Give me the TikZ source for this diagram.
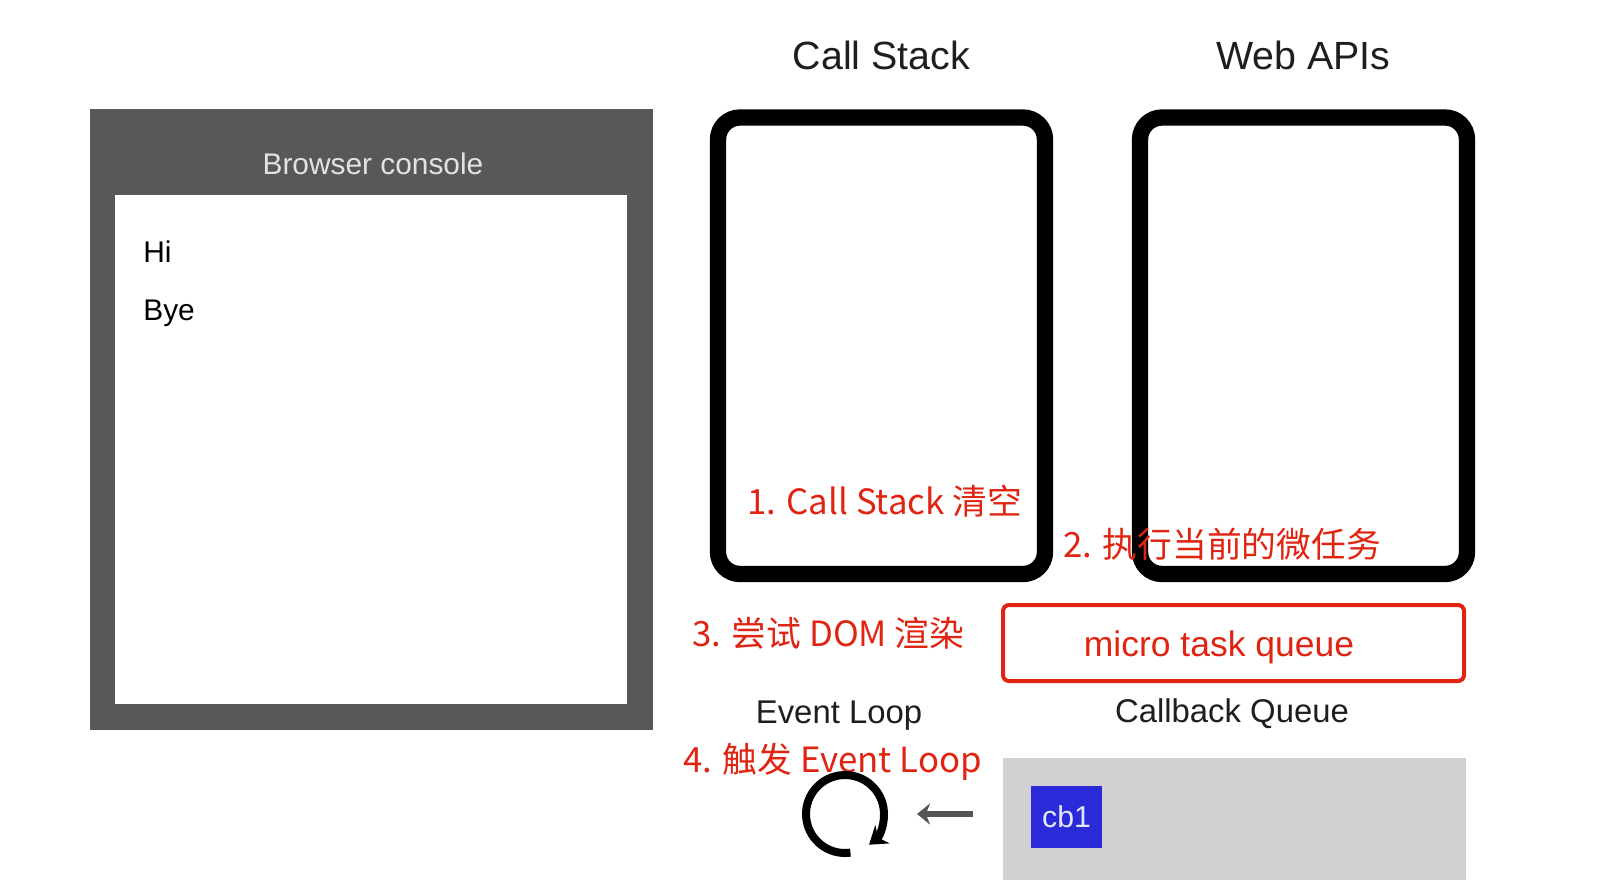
\documentclass[tikz,border=0pt]{standalone}
\usepackage{fontspec}
\setmainfont{Liberation Sans}
\newfontfamily\cjk{Noto Sans CJK SC}
\usetikzlibrary{arrows.meta}
\definecolor{consolegray}{RGB}{88,88,90}
\definecolor{headtext}{RGB}{226,226,226}
\definecolor{notered}{RGB}{224,36,18}
\definecolor{queuegray}{RGB}{209,209,211}
\definecolor{cbblue}{RGB}{42,42,216}
\definecolor{textdark}{RGB}{30,30,30}
\definecolor{arrowgray}{RGB}{85,85,85}
\begin{document}
\begin{tikzpicture}[x=0.02cm,y=-0.02cm,>=stealth,
  title/.style={anchor=base,inner sep=0pt,text=textdark,font=\fontsize{22.4}{26}\selectfont},
  consoletext/.style={anchor=base west,inner sep=0pt,text=black,font=\fontsize{17}{20}\selectfont},
  note/.style={anchor=base west,inner sep=0pt,text=notered,font=\cjk\fontsize{19.8}{24}\selectfont},
  label/.style={anchor=base,inner sep=0pt,text=textdark,font=\fontsize{18.7}{22}\selectfont},
  stackbox/.style={line width=0.326cm,rounded corners=0.44cm}]
\useasboundingbox (0,0) rectangle (1602,880);

% browser console
\fill[consolegray] (90,109) rectangle (653,730);
\fill[white] (115,195) rectangle (627,704);
\node[title,text=headtext,font=\fontsize{17}{20}\selectfont] (head) at (373,174) {Browser console};
\node[consoletext] (hi) at (143,262) {Hi};
\node[consoletext] (bye) at (143,320) {Bye};

% call stack / web apis
\foreach \x/\name/\txt in {718/stack/Call Stack,1140/apis/Web APIs}
{
    \draw[stackbox] (\x,117.5) rectangle ++(327,456.5);
    \node[title] (\name) at (\x+163.5,69) {\txt};
}

% steps
\node[note] (step1) at (747,514) {1. Call Stack 清空};
\node[note] (step2) at (1063,557) {2. 执行当前的微任务};
\node[note] (step3) at (692,646) {3. 尝试 DOM 渲染};
\node[note] (step4) at (683,772) {4. 触发 Event Loop};

% micro task queue
\draw[notered,line width=0.08cm,rounded corners=0.12cm] (1003,605) rectangle (1464,681);
\node[anchor=base,inner sep=0pt,text=notered,font=\fontsize{20.2}{24}\selectfont] (micro) at (1219,656) {micro task queue};

% event loop and callback queue
\node[label] (evloop) at (839,723) {Event Loop};
\node[label] (cbq) at (1232,722) {Callback Queue};
\fill[queuegray] (1003,758) rectangle (1466,880);
\node[fill=cbblue,text=white!88!cbblue,minimum width=1.42cm,minimum height=1.24cm,inner sep=0pt,
  font=\fontsize{17.2}{20}\selectfont] (cb1) at (1066.5,817) {cb1};

\coordinate (loop) at (845,814);
\draw[line width=0.16cm,-{Stealth[length=0.34cm,width=0.46cm]}] (loop) ++(-82:0.78cm)
    arc[start angle=-82,end angle=-412,radius=0.78cm];
\coordinate (arrS) at (973,814);
\coordinate (arrE) at (917,814);
\draw[-{Stealth[length=0.26cm,width=0.42cm]},arrowgray,line width=0.11cm] (arrS) -- (arrE);
\end{tikzpicture}
\end{document}
